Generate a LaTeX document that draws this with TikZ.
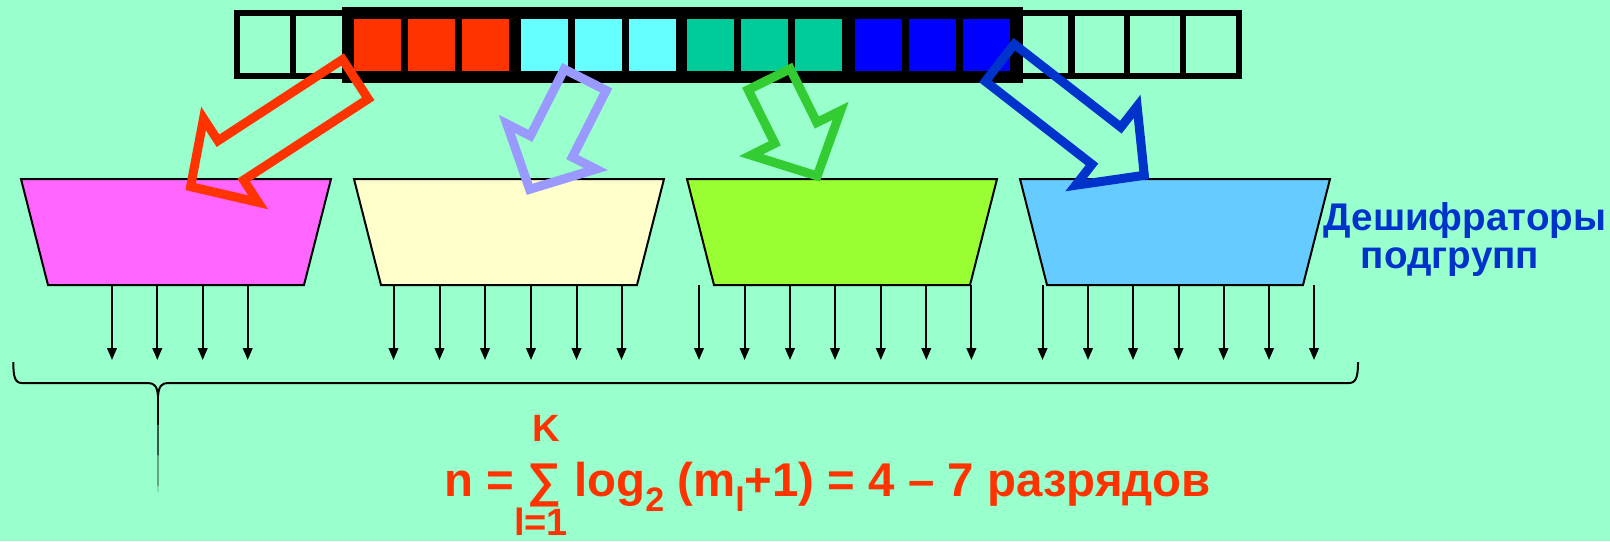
\documentclass[tikz,border=0pt]{standalone}
\usepackage{fontspec}
\setmainfont{Liberation Sans}
\usetikzlibrary{arrows.meta}
\definecolor{bg}{HTML}{99FFCC}
\definecolor{regred}{HTML}{FF3300}
\definecolor{regcyan}{HTML}{66FFFF}
\definecolor{regteal}{HTML}{00CC99}
\definecolor{regblue}{HTML}{0000FF}
\definecolor{decpink}{HTML}{FF66FF}
\definecolor{decyellow}{HTML}{FFFFCC}
\definecolor{declime}{HTML}{99FF33}
\definecolor{decsky}{HTML}{66CCFF}
\definecolor{arrred}{HTML}{FF3300}
\definecolor{arrviolet}{HTML}{9999FF}
\definecolor{arrgreen}{HTML}{33CC33}
\definecolor{arrblue}{HTML}{0033CC}
\definecolor{labelblue}{HTML}{0033CC}
\definecolor{formred}{HTML}{FF3300}
% #1 colour, #2 tail centre, #3 page angle, #4 length
\newcommand\blockarr[4]{%
  \begin{scope}[shift={#2}, rotate=#3]
    \draw[barrow, draw=#1] (0,23.5) -- ({#4-48},23.5) -- ({#4-48},50) -- (#4,0)
      -- ({#4-48},-50) -- ({#4-48},-23.5) -- (0,-23.5) -- cycle;
  \end{scope}}
\newcommand\lowsub[1]{\raisebox{-0.32em}{\fontsize{17}{17}\selectfont #1}}
\begin{document}
\begin{tikzpicture}[x=0.5pt,y=-0.5pt,
  cellline/.style={draw=black, line width=3.2pt},
  decoder/.style={draw=black, line width=1pt},
  outarrow/.style={line width=1pt, -{Triangle[length=6pt,width=4.8pt]}},
  barrow/.style={line width=4.5pt, line join=miter},
  bracestyle/.style={line width=1pt},
  decolabel/.style={text=labelblue, font=\fontsize{19.3}{22}\selectfont\bfseries, inner sep=0pt},
  formula/.style={text=formred, font=\fontsize{23.7}{28}\selectfont\bfseries, inner sep=0pt},
  limits/.style={text=formred, font=\fontsize{19}{22}\selectfont\bfseries, inner sep=0pt}]
\fill[bg] (0,0) rectangle (1610,541);
\useasboundingbox (0,0) rectangle (1610,541);

% register: thin parts
\draw[cellline] (237,13) rectangle (380,76);
\draw[cellline] (293,13) -- (293,76);
\draw[cellline] (990,13) rectangle (1239,76);
\foreach \x in {1071.5,1127,1183} \draw[cellline] (\x,13) -- (\x,76);
% register: thick frame with coloured cells
\fill[black] (342,7) rectangle (1023,83);
\foreach \x/\c in {354/regred,408/regred,462/regred,
                   521/regcyan,575/regcyan,629/regcyan,
                   687/regteal,741/regteal,795/regteal,
                   855/regblue,909/regblue,963/regblue}
  \fill[\c] (\x,19) rectangle ++(47,52);

% decoders
\foreach \x/\c in {21/decpink,354/decyellow,687/declime,1020/decsky}
  \filldraw[decoder, fill=\c] (\x,179) -- ({\x+310},179) -- ({\x+283},285) -- ({\x+27},285) -- cycle;

% output lines
\foreach \x in {112,157.3,202.7,247.7,
                393.5,439.5,485,531,576.5,621.5,
                699,744.6,790,835,880.8,926.3,971.4,
                1042.5,1088,1133,1178.5,1223.5,1269,1314}
  \draw[outarrow] (\x,285) -- (\x,360);

% block arrows
\blockarr{arrred}{(355.4,79.2)}{213.1}{196.7}
\blockarr{arrviolet}{(585.2,79.8)}{243.1}{122.8}
\blockarr{arrgreen}{(769.2,79.3)}{-63.6}{107.9}
\blockarr{arrblue}{(999.8,62.8)}{-37.9}{183.1}

% brace
\draw[bracestyle] (13.3,362) .. controls (13.3,377) and (15,383) .. (22,383) -- (148,383)
  .. controls (154,383) and (157.3,386) .. (158,396);
\draw[bracestyle] (158,396) .. controls (158.7,386) and (162,383) .. (168,383) -- (1349,383)
  .. controls (1356,383) and (1358,377) .. (1358,362);
\fill[black] (157,394) -- (159,394) -- (158.2,492) -- (157.8,492) -- cycle;

% labels
\node[decolabel, anchor=base] (lab1) at (1465,230) {Дешифраторы};
\node[decolabel, anchor=base] (lab2) at (1450,268) {подгрупп};

% formula
\node[formula, anchor=base west] (eq) at (444,496) {n = ∑ log\lowsub{2} (m\lowsub{l}+1) = 4 – 7 разрядов};
\node[limits, anchor=base] (sup) at (546,441) {K};
\node[limits, anchor=base] (inf) at (541,535) {l=1};
\end{tikzpicture}
\end{document}
